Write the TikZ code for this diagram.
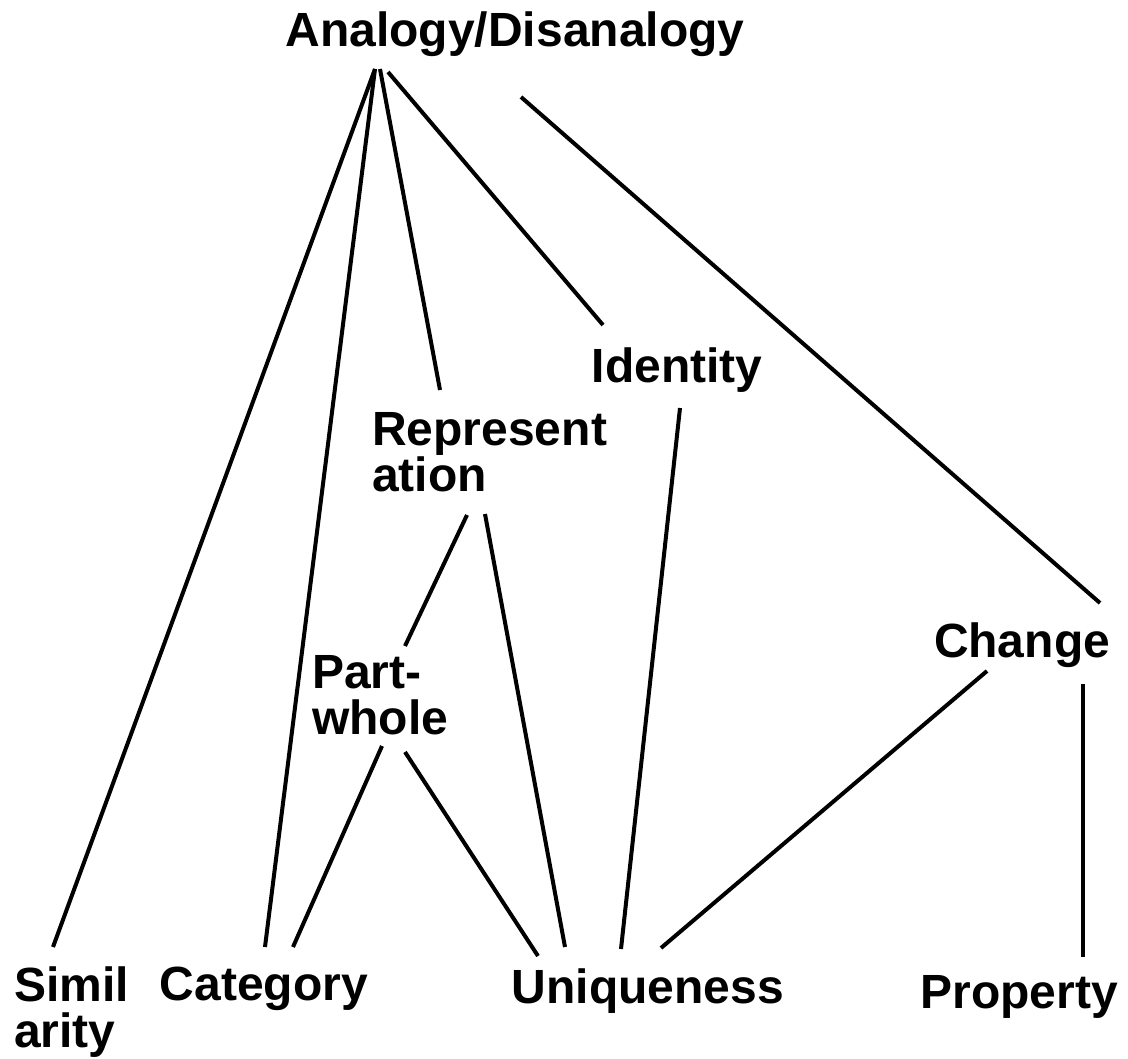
\documentclass[tikz,border=0pt]{standalone}
\usepackage{fontspec}
\setmainfont{Liberation Sans}
\begin{document}
\begin{tikzpicture}[x=0.75pt,y=-0.75pt,
  lbl/.style={font=\fontsize{36}{35}\selectfont\bfseries, inner sep=0pt, align=left},
  conn/.style={line width=3pt, line cap=butt}]
\useasboundingbox (0,0) rectangle (1128,1059);
\node[lbl, anchor=base] (an) at (515,47) {Analogy/Disanalogy};
\node[lbl, anchor=base] (id) at (677,382) {Identity};
\node[lbl, anchor=north west] (re) at (372,412) {Represent\\ation};
\node[lbl, anchor=base] (ch) at (1022,657) {Change};
\node[lbl, anchor=north west] (pw) at (312,655) {Part-\\whole};
\node[lbl, anchor=north west] (si) at (14,966) {Simil\\arity};
\node[lbl, anchor=base] (ca) at (264,1000) {Category};
\node[lbl, anchor=base] (un) at (648,1003) {Uniqueness};
\node[lbl, anchor=base] (pr) at (1019,1008) {Property};
% connector end points
\coordinate (an1) at (375,69);
\coordinate (an2) at (380,69);
\coordinate (an3) at (388,72);
\coordinate (an4) at (521,97);
\coordinate (si1) at (53,947);
\coordinate (ca1) at (265,947);
\coordinate (ca2) at (293,947);
\coordinate (re1) at (440,390);
\coordinate (re2) at (467,515);
\coordinate (re3) at (485,514);
\coordinate (id1) at (603,325);
\coordinate (id2) at (680,408);
\coordinate (ch1) at (1100,603);
\coordinate (ch2) at (987,671);
\coordinate (ch3) at (1083,684);
\coordinate (pw1) at (405,646);
\coordinate (pw2) at (382,746);
\coordinate (pw3) at (405,752);
\coordinate (un1) at (565,947);
\coordinate (un2) at (621,949);
\coordinate (un3) at (661,948);
\coordinate (un4) at (538,956);
\coordinate (pr1) at (1083,957);
\draw[conn] (an1) -- (si1);
\draw[conn] (an1) -- (ca1);
\draw[conn] (an2) -- (re1);
\draw[conn] (an3) -- (id1);
\draw[conn] (an4) -- (ch1);
\draw[conn] (re2) -- (pw1);
\draw[conn] (re3) -- (un1);
\draw[conn] (id2) -- (un2);
\draw[conn] (ch2) -- (un3);
\draw[conn] (ch3) -- (pr1);
\draw[conn] (pw2) -- (ca2);
\draw[conn] (pw3) -- (un4);
\end{tikzpicture}
\end{document}
